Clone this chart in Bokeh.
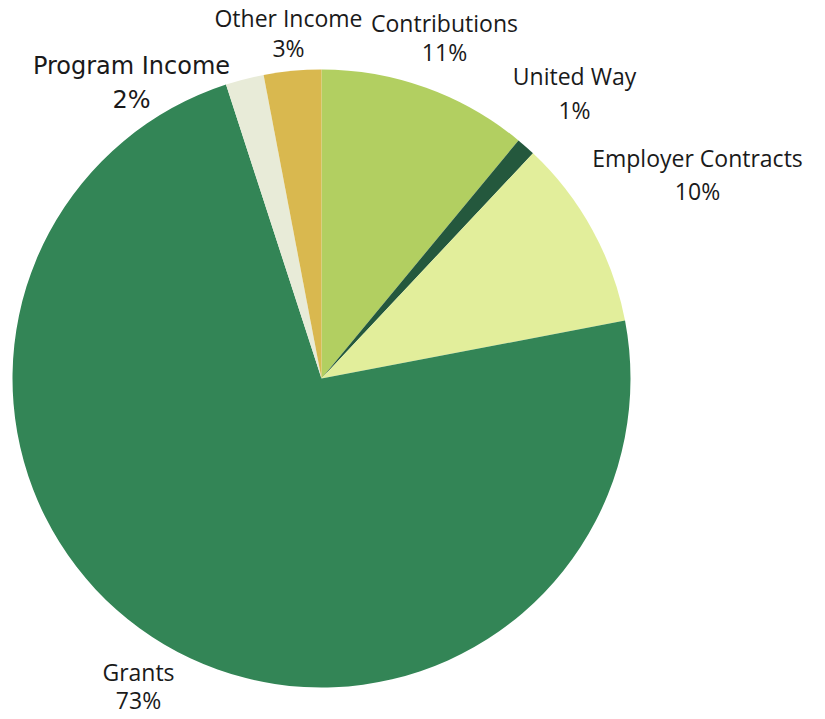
import math
from bokeh.plotting import figure
from bokeh.models import Range1d, ColumnDataSource
from bokeh.core.properties import value
from bokeh.embed import file_html
from bokeh.resources import INLINE

# ---- data ----
categories = ["Contributions", "United Way", "Employer Contracts", "Grants", "Program Income", "Other Income"]
percents = [11, 1, 10, 73, 2, 3]
colors = ["#b2cf61", "#24583d", "#e2ee9b", "#338556", "#e8ebd8", "#d9b84f"]

# ---- layout (picture pixel coordinates) ----
W, H = 825, 719
center_page = (321, 378)
radius_px = 309
# label anchors: (center x, name baseline y, percent baseline y)
label_anchor = [
    (444, 30, 59),
    (574, 83, 117),
    (697, 165, 198),
    (138, 679, 707),
    (131, 73, 107),
    (288, 25, 55),
]
text_shift = 8
label_fonts = ["Open Sans", "Open Sans", "Open Sans", "Open Sans", "DejaVu Sans", "Open Sans"]
label_sizes = ["23px", "23px", "23px", "23px", "24px", "23px"]


def px(xp):
    return xp


def py(yp):
    return H - yp


p = figure(width=W, height=H, output_backend="svg", toolbar_location=None,
           x_range=Range1d(0, W), y_range=Range1d(0, H),
           min_border=0, min_border_left=0, min_border_right=0,
           min_border_top=0, min_border_bottom=0)
p.axis.visible = False
p.grid.visible = False
p.outline_line_color = None
p.background_fill_color = "white"
p.border_fill_color = "white"

total = float(sum(percents))
starts, ends = [], []
cum = 0.0
for v in percents:
    starts.append(math.pi / 2 - 2 * math.pi * cum / total)
    cum += v
    ends.append(math.pi / 2 - 2 * math.pi * cum / total)

src = ColumnDataSource(dict(x=[px(center_page[0])] * len(percents),
                            y=[py(center_page[1])] * len(percents),
                            start=starts, end=ends, color=colors))
p.wedge(x="x", y="y", radius=radius_px, start_angle="start", end_angle="end",
        direction="clock", fill_color="color", line_color=None, source=src)

for name, pct, (cx, ny, pyy), font, size in zip(categories, percents, label_anchor, label_fonts, label_sizes):
    p.text(x=[px(cx)], y=[py(ny - text_shift)], text=[name], text_align="center",
           text_baseline="alphabetic", text_font=value(font),
           text_font_size=size, text_color="#1a1a1a")
    p.text(x=[px(cx)], y=[py(pyy - text_shift)], text=[f"{pct}%"], text_align="center",
           text_baseline="alphabetic", text_font=value(font),
           text_font_size=size, text_color="#1a1a1a")

open("out.html", "w").write(file_html(p, INLINE))
